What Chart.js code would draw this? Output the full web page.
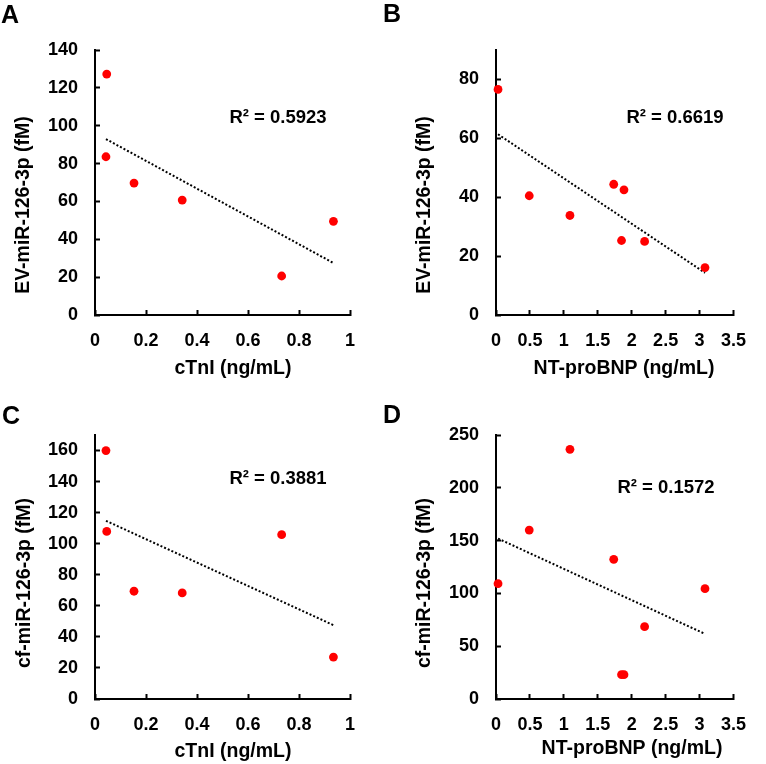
<!DOCTYPE html>
<html>
<head>
<meta charset="utf-8">
<script src="https://cdn.jsdelivr.net/npm/chart.js@4.4.0/dist/chart.umd.min.js"></script>
<style>
  html, body { margin: 0; padding: 0; background: #fff; }
  #wrap { position: relative; width: 766px; height: 764px; }
  .panel { position: absolute; width: 383px; height: 382px; }
</style>
</head>
<body>
<div id="wrap">
  <div class="panel" style="left:0;top:0"><canvas id="chartA" width="383" height="382"></canvas></div>
  <div class="panel" style="left:383px;top:0"><canvas id="chartB" width="383" height="382"></canvas></div>
  <div class="panel" style="left:0;top:382px"><canvas id="chartC" width="383" height="382"></canvas></div>
  <div class="panel" style="left:383px;top:382px"><canvas id="chartD" width="383" height="382"></canvas></div>
</div>
<script>
// values
const cTnI = [0.046, 0.043, 0.153, 0.342, 0.732, 0.935];
const evByCtni = [127.3, 83.6, 69.7, 60.7, 20.6, 49.5];
const cfByCtni = [107.9, 160, 69.4, 68.3, 105.8, 27.0];

const ntProBNP = [0.03, 0.49, 1.09, 1.735, 1.886, 1.85, 2.19, 3.08];
const evByBnp = [76.6, 40.5, 33.8, 44.4, 42.5, 25.3, 25.0, 16.1];
const cfByBnp = [109.2, 160, 236.4, 132.3, 23, 23, 68.5, 104.5];

const xTicksCtni = [0, 0.2, 0.4, 0.6, 0.8, 1];
const xTicksBnp = [0, 0.5, 1, 1.5, 2, 2.5, 3, 3.5];
const yTicksA = [0, 20, 40, 60, 80, 100, 120, 140];
const yTicksB = [0, 20, 40, 60, 80];
const yTicksC = [0, 20, 40, 60, 80, 100, 120, 140, 160];
const yTicksD = [0, 50, 100, 150, 200, 250];

const FONT = '"Liberation Sans", Arial, sans-serif';

// least squares line over the data range
function trend(xs, ys) {
  const n = xs.length;
  const mx = xs.reduce((a, b) => a + b, 0) / n;
  const my = ys.reduce((a, b) => a + b, 0) / n;
  let sxy = 0, sxx = 0;
  for (let i = 0; i < n; i++) {
    sxy += (xs[i] - mx) * (ys[i] - my);
    sxx += (xs[i] - mx) * (xs[i] - mx);
  }
  const b = sxy / sxx, a = my - b * mx;
  const x0 = Math.min(...xs), x1 = Math.max(...xs);
  return [{ x: x0, y: a + b * x0 }, { x: x1, y: a + b * x1 }];
}

const textPlugin = {
  id: 'panelText',
  afterDraw(chart, args, o) {
    const ctx = chart.ctx;
    ctx.save();
    ctx.fillStyle = '#000';
    // panel letter
    ctx.font = 'bold 25px ' + FONT;
    ctx.textAlign = 'left';
    ctx.textBaseline = 'alphabetic';
    ctx.fillText(o.letter, o.letterPos[0], o.letterPos[1]);
    // R squared
    ctx.font = 'bold 18.5px ' + FONT;
    ctx.textAlign = 'center';
    ctx.fillText(o.r2, o.r2Pos[0], o.r2Pos[1]);
    // x title
    ctx.font = 'bold 19.5px ' + FONT;
    ctx.fillText(o.xTitle, o.xTitlePos[0], o.xTitlePos[1]);
    // y title
    ctx.translate(o.yTitlePos[0], o.yTitlePos[1]);
    ctx.rotate(-Math.PI / 2);
    ctx.fillText(o.yTitle, 0, 0);
    ctx.restore();
  }
};

function makeChart(id, xs, ys, xMax, yMax, xTicks, yTicks, area, text) {
  const pts = xs.map((x, i) => ({ x: x, y: ys[i] }));
  const axisCommon = {
    type: 'linear',
    grid: { drawOnChartArea: false, drawTicks: true, tickLength: -5, tickColor: '#000', tickWidth: 2 },
    border: { display: true, color: '#000', width: 2 },
    ticks: {
      color: '#000', font: { family: FONT, size: 18, weight: 'bold' }, autoSkip: false, maxRotation: 0,
      callback: v => String(v)
    }
  };
  new Chart(document.getElementById(id), {
    type: 'scatter',
    data: {
      datasets: [
        {
          data: pts,
          backgroundColor: '#ff0000',
          borderWidth: 0,
          pointRadius: 4.4,
          clip: false,
          order: 1
        },
        {
          type: 'line',
          data: trend(xs, ys),
          borderColor: '#000',
          borderWidth: 2,
          borderDash: [2, 2],
          pointRadius: 0,
          fill: false,
          clip: false,
          order: 2
        }
      ]
    },
    options: {
      responsive: false,
      animation: false,
      layout: { autoPadding: false, padding: { left: 0, top: area.top, right: 383 - area.right, bottom: 0 } },
      plugins: { legend: { display: false }, tooltip: { enabled: false }, panelText: text },
      scales: {
        x: Object.assign({}, axisCommon, {
          position: 'bottom',
          min: 0, max: xMax,
          ticks: Object.assign({}, axisCommon.ticks, { padding: 20 }),
          afterBuildTicks: s => { s.ticks = xTicks.map(v => ({ value: v })); },
          afterFit: s => { s.height = 382 - area.bottom; }
        }),
        y: Object.assign({}, axisCommon, {
          position: 'left',
          min: 0, max: yMax,
          ticks: Object.assign({}, axisCommon.ticks, { padding: 22 }),
          afterBuildTicks: s => { s.ticks = yTicks.map(v => ({ value: v })); },
          afterFit: s => { s.width = area.left; }
        })
      }
    },
    plugins: [textPlugin]
  });
}

makeChart('chartA', cTnI, evByCtni, 1, 140, xTicksCtni, yTicksA,
  { left: 95, top: 50, right: 350, bottom: 315 },
  { letter: 'A', letterPos: [1, 23], r2: 'R² = 0.5923', r2Pos: [278, 123],
    xTitle: 'cTnI (ng/mL)', xTitlePos: [233, 374], yTitle: 'EV-miR-126-3p (fM)', yTitlePos: [29, 205] });

makeChart('chartB', ntProBNP, evByBnp, 3.5, 90, xTicksBnp, yTicksB,
  { left: 113, top: 50, right: 370, bottom: 315 },
  { letter: 'B', letterPos: [0, 22], r2: 'R² = 0.6619', r2Pos: [292, 123],
    xTitle: 'NT-proBNP (ng/mL)', xTitlePos: [241, 374], yTitle: 'EV-miR-126-3p (fM)', yTitlePos: [47, 205] });

makeChart('chartC', cTnI, cfByCtni, 1, 170, xTicksCtni, yTicksC,
  { left: 95, top: 53, right: 350, bottom: 317 },
  { letter: 'C', letterPos: [2, 42], r2: 'R² = 0.3881', r2Pos: [278, 102],
    xTitle: 'cTnI (ng/mL)', xTitlePos: [233, 375], yTitle: 'cf-miR-126-3p (fM)', yTitlePos: [30, 201] });

makeChart('chartD', ntProBNP, cfByBnp, 3.5, 250, xTicksBnp, yTicksD,
  { left: 113, top: 53, right: 370, bottom: 317 },
  { letter: 'D', letterPos: [0, 41], r2: 'R² = 0.1572', r2Pos: [283, 111],
    xTitle: 'NT-proBNP (ng/mL)', xTitlePos: [249, 372], yTitle: 'cf-miR-126-3p (fM)', yTitlePos: [47, 201] });
</script>
</body>
</html>
